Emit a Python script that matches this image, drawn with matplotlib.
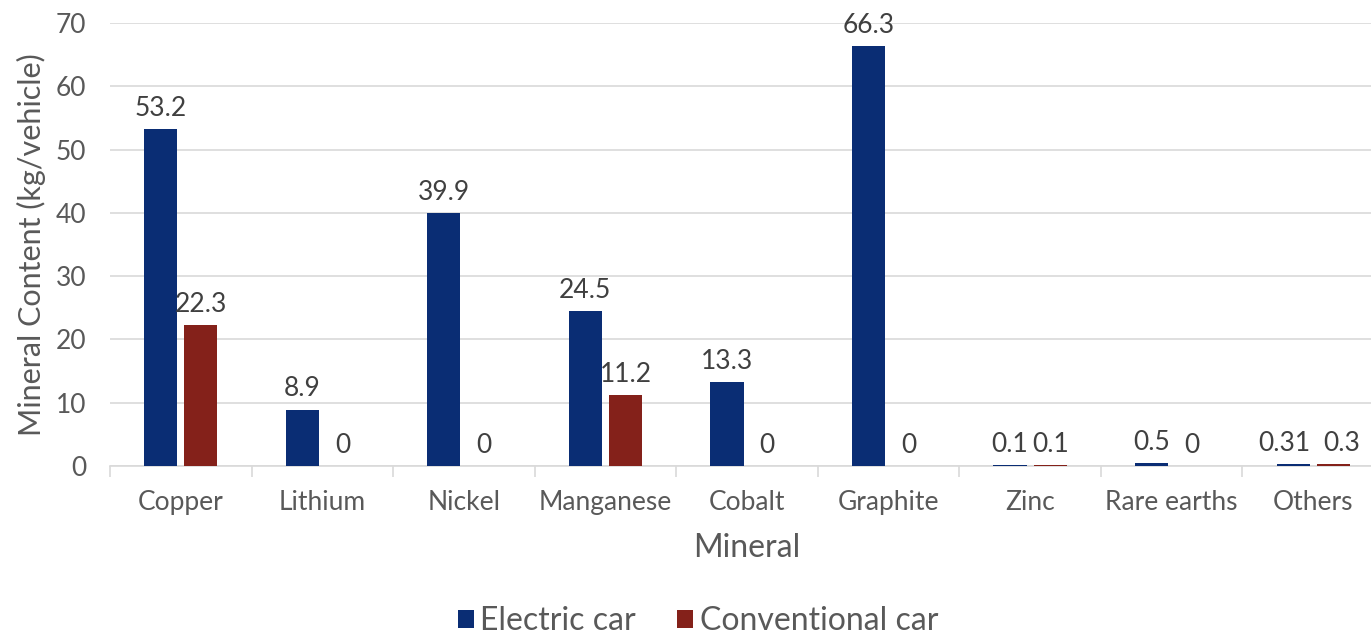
import numpy as np
import matplotlib
matplotlib.use("Agg")
import matplotlib.pyplot as plt

# mineral content per vehicle (kg)
minerals = ["Copper", "Lithium", "Nickel", "Manganese", "Cobalt",
            "Graphite", "Zinc", "Rare earths", "Others"]
electric = [53.2, 8.9, 39.9, 24.5, 13.3, 66.3, 0.1, 0.5, 0.31]
conventional = [22.3, 0, 0, 11.2, 0, 0, 0.1, 0, 0.3]
electric_labels = ["53.2", "8.9", "39.9", "24.5", "13.3", "66.3", "0.1", "0.5", "0.31"]
conventional_labels = ["22.3", "0", "0", "11.2", "0", "0", "0.1", "0", "0.3"]

plt.rcParams['font.family'] = ['Lato', 'DejaVu Sans']

fig = plt.figure(figsize=(13.71, 6.35), dpi=100)
ax = fig.add_axes([0.0802, 0.2661, 0.9293, 0.6977])

x = np.arange(len(minerals))
w = 0.235
off = 0.142
b1 = ax.bar(x - off, electric, w, color="#0a2d74", label="Electric car", zorder=3)
b2 = ax.bar(x + off, conventional, w, color="#84211a", label="Conventional car", zorder=3)

for bars, labels, nudge in ((b1, electric_labels, -2), (b2, conventional_labels, 2)):
    for i, (rect, lab) in enumerate(zip(bars, labels)):
        # the last pair of labels sits too close, push them apart a little
        dx = nudge * 3 if i == len(labels) - 1 else 0
        ax.annotate(lab, (rect.get_x() + rect.get_width() / 2, rect.get_height()),
                    xytext=(dx, 6), textcoords="offset points",
                    ha="center", va="bottom", fontsize=19, color="#404040")

ax.set_xlim(-0.5, len(minerals) - 0.5)
ax.set_ylim(0, 70)
ax.set_yticks(range(0, 71, 10))
ax.yaxis.grid(True, color="#d9d9d9", linewidth=1.2, zorder=0)
ax.set_axisbelow(True)

ax.set_xticks(x)
ax.set_xticklabels(minerals)
ax.set_xticks(np.arange(-0.5, len(minerals), 1), minor=True)
ax.tick_params(axis="x", which="major", length=0, labelsize=19, colors="#595959", pad=17)
ax.tick_params(axis="x", which="minor", length=8, color="#d9d9d9", width=1.2)
ax.tick_params(axis="y", length=0, labelsize=19, colors="#595959", pad=17)

for s in ["top", "right", "left"]:
    ax.spines[s].set_visible(False)
ax.spines["bottom"].set_color("#d9d9d9")
ax.spines["bottom"].set_linewidth(1.2)

ax.set_xlabel("Mineral", fontsize=23, color="#595959", labelpad=13)
ax.set_ylabel("Mineral Content (kg/vehicle)", fontsize=22, color="#595959", labelpad=7)

fig.legend(loc="center", bbox_to_anchor=(0.509, 0.022), ncol=2, frameon=False,
           fontsize=23, labelcolor="#595959", handlelength=0.5, handleheight=0.5,
           handletextpad=0.2, columnspacing=1.3)

fig.savefig("out.png", dpi=100)
